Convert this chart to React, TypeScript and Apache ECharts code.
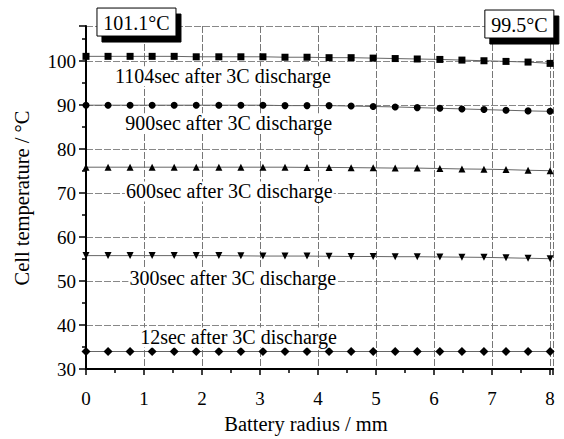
import React, { useEffect, useRef } from "react";
import * as echarts from "echarts";

// Radial positions (mm) of the 22 sampling points across the cell
const radius = [
  0, 0.38, 0.76, 1.14, 1.52, 1.9, 2.29, 2.67, 3.05, 3.43, 3.81,
  4.19, 4.57, 4.95, 5.33, 5.71, 6.1, 6.48, 6.86, 7.24, 7.62, 8,
];

// Temperatures (°C) after 3C discharge
const t1104 = [
  101.1, 101.1, 101.1, 101.1, 101.1, 101.0, 101.0, 101.0, 101.0, 100.9, 100.9,
  100.8, 100.8, 100.7, 100.6, 100.5, 100.4, 100.25, 100.1, 99.95, 99.8, 99.5,
];
const t900 = [
  90.0, 90.0, 90.0, 90.0, 90.0, 90.0, 90.0, 90.0, 90.0, 89.9, 89.9,
  89.9, 89.8, 89.7, 89.6, 89.45, 89.3, 89.15, 89.0, 88.85, 88.7, 88.6,
];
const t600 = [
  75.9, 75.9, 75.9, 75.9, 75.9, 75.9, 75.9, 75.9, 75.9, 75.9, 75.85,
  75.85, 75.8, 75.75, 75.7, 75.7, 75.6, 75.5, 75.45, 75.35, 75.2, 75.1,
];
const t300 = [
  55.8, 55.8, 55.8, 55.8, 55.8, 55.8, 55.8, 55.75, 55.7, 55.7, 55.7,
  55.65, 55.6, 55.6, 55.55, 55.55, 55.5, 55.45, 55.4, 55.3, 55.2, 55.1,
];
const t12 = [
  34.0, 34.0, 34.0, 34.0, 34.0, 34.0, 34.0, 34.0, 34.0, 34.0, 34.0,
  34.0, 34.0, 34.0, 34.0, 34.0, 34.0, 34.0, 34.0, 34.0, 34.0, 34.0,
];

const seriesNames = [
  "1104sec after 3C discharge",
  "900sec after 3C discharge",
  "600sec after 3C discharge",
  "300sec after 3C discharge",
  "12sec after 3C discharge",
];
const seriesValues = [t1104, t900, t600, t300, t12];
const seriesSymbols = ["rect", "circle", "triangle", "triangle", "diamond"];

// Where each curve's caption sits, in data coordinates
const captionAnchors = [
  [2.36, 96.6],
  [2.46, 85.9],
  [2.47, 70.4],
  [2.53, 50.7],
  [2.63, 37.2],
];

// Centre and edge temperatures of the hottest profile, and where their tags sit
const tagTexts = ["101.1°C", "99.5°C"];
const tagAnchors = [
  [0.87, 108.9],
  [7.47, 108.45],
];
const tagWidths = [79, 69];
const TAG_HEIGHT = 28;

const FONT = "Liberation Serif, Times New Roman, serif";

export default function App() {
  const ref = useRef<HTMLDivElement>(null);

  useEffect(() => {
    if (!ref.current) return;
    const chart = echarts.init(ref.current, null, { renderer: "svg" });

    const lineSeries = seriesValues.map((vals, i) => ({
      name: seriesNames[i],
      type: "line",
      data: vals.map((v, j) => [radius[j], v]),
      symbol: seriesSymbols[i],
      symbolRotate: i === 3 ? 180 : 0,
      symbolSize: seriesSymbols[i] === "diamond" ? 9 : 7,
      itemStyle: { color: "#000" },
      lineStyle: { color: "#666", width: 1 },
      z: 3,
    }));

    const captionSeries = {
      type: "scatter",
      symbolSize: 0,
      silent: true,
      z: 4,
      itemStyle: { opacity: 1 },
      data: captionAnchors.map((p, i) => ({ value: p, name: seriesNames[i] })),
      label: {
        show: true,
        position: "inside",
        formatter: (p: any) => p.name,
        color: "#000",
        opacity: 1,
        fontFamily: FONT,
        fontSize: 20,
        backgroundColor: "#fff",
        padding: [0, 1],
      },
    };

    // Framed temperature tags with a solid black drop shadow
    const tagSeries = {
      type: "custom",
      silent: true,
      clip: false,
      z: 10,
      data: tagAnchors,
      renderItem: (params: any, api: any) => {
        const [cx, cy] = api.coord([api.value(0), api.value(1)]);
        const w = tagWidths[params.dataIndex];
        const h = TAG_HEIGHT;
        const x0 = cx - w / 2;
        const y0 = cy - h / 2;
        return {
          type: "group",
          children: [
            {
              type: "rect",
              z2: 1,
              shape: { x: x0 + 5, y: y0 + 6, width: w, height: h },
              style: { fill: "#000", stroke: "#000", lineWidth: 1 },
            },
            {
              type: "rect",
              z2: 2,
              shape: { x: x0, y: y0, width: w, height: h },
              style: { fill: "#fff", stroke: "#000", lineWidth: 1 },
            },
            {
              type: "text",
              z2: 3,
              x: cx,
              y: cy + 1,
              style: {
                text: tagTexts[params.dataIndex],
                fill: "#000",
                font: `20px ${FONT}`,
                align: "center",
                verticalAlign: "middle",
              },
            },
          ],
        };
      },
    };

    chart.setOption({
      animation: false,
      backgroundColor: "#fff",
      grid: { left: 86, right: 11, top: 26, bottom: 65, containLabel: false },
      xAxis: {
        type: "value",
        min: 0,
        max: 8.05,
        interval: 1,
        name: "Battery radius / mm",
        nameLocation: "middle",
        nameGap: 32,
        nameTextStyle: { fontFamily: FONT, fontSize: 20.5, color: "#000", padding: [0, 27, 0, 0] },
        axisLine: { onZero: false, lineStyle: { color: "#000", width: 2 } },
        axisTick: { length: 6, lineStyle: { color: "#000", width: 1.5 } },
        minorTick: { show: true, splitNumber: 2, length: 4, lineStyle: { color: "#000", width: 1.5 } },
        axisLabel: {
          fontFamily: FONT,
          fontSize: 19,
          color: "#000",
          margin: 20,
          formatter: (v: number) => (Number.isInteger(v) ? String(v) : ""),
        },
        splitLine: { show: true, lineStyle: { color: "#777", width: 1, type: [7, 2] } },
      },
      yAxis: {
        type: "value",
        min: 30,
        max: 108,
        interval: 10,
        axisLine: { show: true, lineStyle: { color: "#000", width: 2 } },
        axisTick: { show: true, length: 7, lineStyle: { color: "#000", width: 1.5 } },
        minorTick: { show: true, splitNumber: 2, length: 4, lineStyle: { color: "#000", width: 1.5 } },
        axisLabel: {
          fontFamily: FONT,
          fontSize: 19,
          color: "#000",
          margin: 10,
          formatter: (v: number) => (v % 10 === 0 && v <= 100 ? String(v) : ""),
        },
        splitLine: { show: true, lineStyle: { color: "#888", width: 1, type: [7, 2] } },
      },
      graphic: [
        {
          type: "text",
          x: 22,
          y: 198,
          rotation: Math.PI / 2,
          style: {
            text: "Cell temperature / °C",
            fill: "#000",
            font: `20.5px ${FONT}`,
            align: "center",
            verticalAlign: "middle",
          },
        },
      ],
      series: [...lineSeries, captionSeries, tagSeries],
    });

    return () => chart.dispose();
  }, []);

  return (
    <div
      ref={ref}
      style={{ position: "fixed", left: 0, top: 0, width: 564, height: 439, background: "#fff" }}
    />
  );
}
